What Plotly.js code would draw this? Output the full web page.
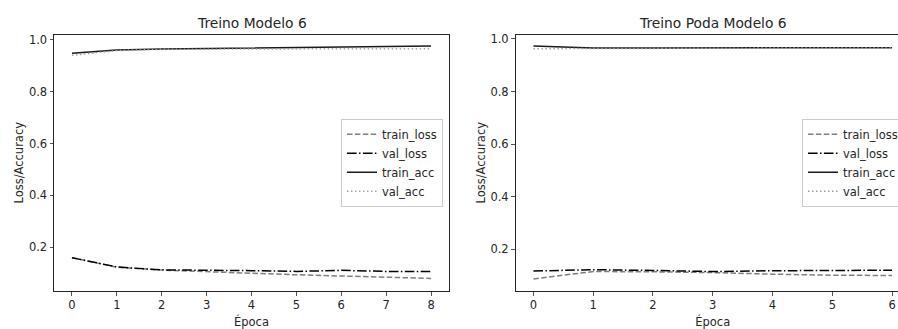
<!DOCTYPE html>
<html>
<head>
<meta charset="utf-8">
<script src="https://cdn.plot.ly/plotly-3.0.1.min.js"></script>
<style>
html,body{margin:0;padding:0;overflow:hidden;background:#fff;width:898px;height:329px;}
#chart{width:912px;height:329px;}
</style>
</head>
<body>
<div id="chart"></div>
<script>
// ---- data ----
const epochsA = [0, 1, 2, 3, 4, 5, 6, 7, 8];
const trainLossA = [0.160, 0.123, 0.112, 0.105, 0.100, 0.094, 0.089, 0.085, 0.080];
const valLossA   = [0.160, 0.124, 0.113, 0.112, 0.110, 0.107, 0.111, 0.107, 0.107];
const trainAccA  = [0.948, 0.960, 0.964, 0.966, 0.968, 0.970, 0.972, 0.974, 0.976];
const valAccA    = [0.940, 0.958, 0.963, 0.964, 0.965, 0.965, 0.965, 0.965, 0.965];

const epochsB = [0, 1, 2, 3, 4, 5, 6];
const trainLossB = [0.088, 0.116, 0.115, 0.112, 0.106, 0.102, 0.101];
const valLossB   = [0.118, 0.123, 0.120, 0.116, 0.119, 0.120, 0.121];
const trainAccB  = [0.973, 0.966, 0.966, 0.966, 0.966, 0.967, 0.967];
const valAccB    = [0.963, 0.964, 0.965, 0.965, 0.966, 0.966, 0.966];

const seriesNames = ['train_loss', 'val_loss', 'train_acc', 'val_acc'];
const titles = ['Treino Modelo 6', 'Treino Poda Modelo 6'];
const xLabel = 'Época';
const yLabel = 'Loss/Accuracy';
const yTicks = [0.2, 0.4, 0.6, 0.8, 1.0];

// ---- styles ----
const styles = [
  {color: '#808080', width: 1.5, dash: '5.5px,2.4px'},
  {color: '#000000', width: 1.5, dash: '9.6px,2.4px,1.5px,2.4px'},
  {color: '#1a1a1a', width: 1.5, dash: 'solid'},
  {color: '#a0a0a0', width: 1.5, dash: '1.5px,2.5px'}
];

const W = 912, H = 329;
const FONT = 'DejaVu Sans, sans-serif';
const TXT = '#262626';
const FS = 11.5, TFS = 13.8;

function mk(x, ys, xa, ya, leg) {
  return ys.map((y, i) => ({
    x: x, y: y, type: 'scatter', mode: 'lines',
    name: seriesNames[i], line: styles[i],
    xaxis: xa, yaxis: ya, legend: leg, hoverinfo: 'skip'
  }));
}

const traces = [
  ...mk(epochsA, [trainLossA, valLossA, trainAccA, valAccA], 'x', 'y', 'legend'),
  ...mk(epochsB, [trainLossB, valLossB, trainAccB, valAccB], 'x2', 'y2', 'legend2')
];

const yDom = [(H - 291) / H, (H - 34.5) / H];

function xAxis(dom, rng, anchor) {
  return {
    domain: dom, range: rng, anchor: anchor, dtick: 1, tick0: 0,
    showgrid: false, zeroline: false, showline: true, mirror: true,
    linecolor: '#262626', linewidth: 1, ticks: 'outside', ticklen: 3.5,
    tickwidth: 0.8, tickcolor: '#262626',
    tickfont: {family: FONT, size: FS, color: TXT},
    title: {text: xLabel, font: {family: FONT, size: FS, color: TXT}, standoff: 6},
    automargin: false, fixedrange: true
  };
}
function yAxis(rng, anchor) {
  return {
    domain: yDom, range: rng, anchor: anchor, tickvals: yTicks, tickformat: '.1f',
    showgrid: false, zeroline: false, showline: true, mirror: true,
    linecolor: '#262626', linewidth: 1, ticks: 'outside', ticklen: 3.5,
    tickwidth: 0.8, tickcolor: '#262626',
    tickfont: {family: FONT, size: FS, color: TXT},
    title: {text: yLabel, font: {family: FONT, size: FS, color: TXT}, standoff: 2},
    automargin: false, fixedrange: true
  };
}
function legendAt(xRightPx) {
  return {
    x: xRightPx / W, y: (yDom[0] + yDom[1]) / 2, xanchor: 'right', yanchor: 'middle',
    bgcolor: 'rgba(255,255,255,0.8)', bordercolor: '#cccccc', borderwidth: 1,
    font: {family: FONT, size: FS, color: TXT}, tracegroupgap: 0, itemwidth: 30
  };
}

const xd1 = [54 / W, 449 / W], xd2 = [515.5 / W, 910 / W];

const layout = {
  width: W, height: H,
  margin: {l: 0, r: 0, t: 0, b: 0},
  paper_bgcolor: '#ffffff', plot_bgcolor: '#ffffff',
  font: {family: FONT, size: FS, color: TXT},
  showlegend: true,
  xaxis: xAxis(xd1, [-0.4, 8.4], 'y'),
  yaxis: yAxis([0.0315, 1.020], 'x'),
  xaxis2: xAxis(xd2, [-0.3, 6.3], 'y2'),
  yaxis2: yAxis([0.042, 1.017], 'x2'),
  legend: legendAt(443),
  legend2: legendAt(904),
  annotations: [
    {text: titles[0], xref: 'paper', yref: 'paper', x: (xd1[0] + xd1[1]) / 2, y: yDom[1],
     xanchor: 'center', yanchor: 'bottom', yshift: 1, showarrow: false,
     font: {family: FONT, size: TFS, color: TXT}},
    {text: titles[1], xref: 'paper', yref: 'paper', x: (xd2[0] + xd2[1]) / 2, y: yDom[1],
     xanchor: 'center', yanchor: 'bottom', yshift: 1, showarrow: false,
     font: {family: FONT, size: TFS, color: TXT}}
  ]
};

Plotly.newPlot('chart', traces, layout, {staticPlot: true, displayModeBar: false});
</script>
</body>
</html>
